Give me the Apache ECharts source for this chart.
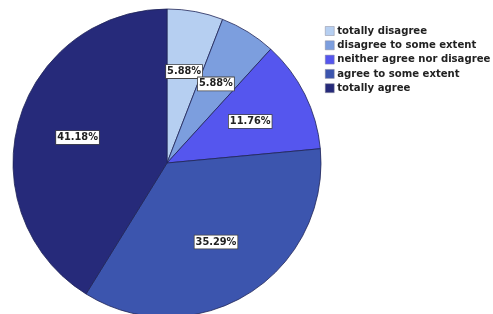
<!DOCTYPE html>
<html><head><meta charset="utf-8">
<script src="https://cdn.jsdelivr.net/npm/echarts@6/dist/echarts.min.js"></script>
<style>html,body{margin:0;padding:0;background:#fff}#c{width:493px;height:314px}</style>
</head><body><div id="c"></div>
<script>
const categories = ['totally disagree','disagree to some extent','neither agree nor disagree','agree to some extent','totally agree'];
const values = [5.88, 5.88, 11.76, 35.29, 41.18];
const colors = ['#b6cff1','#7c9ede','#5556ee','#3c55ae','#262a7a'];

const chart = echarts.init(document.getElementById('c'), null, {renderer:'canvas'});
const data = categories.map((n,i)=>({name:n, value:values[i], itemStyle:{color:colors[i]}}));
chart.setOption({
  animation:false,
  legend:{
    orient:'vertical', left:320, top:21, itemWidth:9, itemHeight:9, itemGap:4.3,
    icon:'rect',
    data: categories.map((n,i)=>({name:n, itemStyle:{color:colors[i], borderColor:'#8a8a9a', borderWidth:0.5}})),
    textStyle:{fontFamily:'DejaVu Sans', fontWeight:'bold', fontSize:10.1, color:'#222', padding:[0,0,0,-2]},
    selectedMode:false
  },
  series:[
    {
      type:'pie', center:[167,163], radius:[0,154], startAngle:90, clockwise:true,
      label:{show:false}, labelLine:{show:false}, silent:true,
      itemStyle:{borderColor:'#1f2458', borderWidth:0.8},
      data: data
    },
    {
      type:'pie', center:[167,163], radius:[26,154], startAngle:90, clockwise:true,
      silent:true, legendHoverLink:false,
      itemStyle:{color:'rgba(0,0,0,0)', borderWidth:0},
      labelLayout:{hideOverlap:false},
      label:{show:true, position:'inside', formatter:(p)=>p.value.toFixed(2)+'%',
        fontFamily:'DejaVu Sans', fontWeight:'bold', fontSize:9.8, color:'#222',
        backgroundColor:'#fff', borderColor:'#444', borderWidth:0.8, padding:[2,1,1,1]},
      labelLine:{show:false},
      data: categories.map((n,i)=>({name:n, value:values[i]}))
    }
  ]
});
</script></body></html>
